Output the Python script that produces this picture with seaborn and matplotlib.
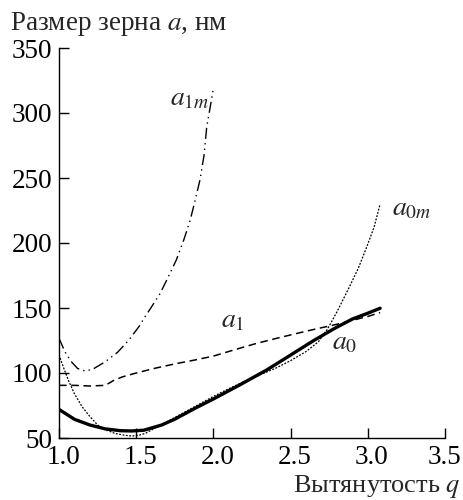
import matplotlib
matplotlib.use("Agg")
import matplotlib.pyplot as plt
import matplotlib.transforms as mtransforms
import seaborn as sns

# ---- data ----
q_a0 = [1.0, 1.1, 1.2, 1.3, 1.4, 1.47, 1.55, 1.665, 1.75, 1.88, 2.0, 2.17, 2.345,
        2.5, 2.65, 2.78, 2.9, 3.0, 3.08]
a0 = [72, 64.4, 60, 57, 55.6, 55.4, 56, 60, 64.5, 72.8, 80, 90.8, 102.3,
      113.8, 125, 134, 141.5, 146, 149.8]

q_a0m = [1.0, 1.03, 1.06, 1.1, 1.15, 1.2, 1.25, 1.3, 1.36, 1.42, 1.47, 1.52, 1.56,
         1.62, 1.7, 1.8, 1.9, 2.0, 2.1, 2.2, 2.3, 2.4, 2.5, 2.6, 2.68, 2.74, 2.80,
         2.88, 2.94, 2.99, 3.04, 3.08]
a0m = [114, 104, 94.6, 84, 74, 66.5, 60, 56.5, 53.6, 52.2, 51.5, 52.2, 53.6,
       57.5, 62.5, 69, 75.5, 82, 88, 93.5, 98.5, 103.5, 109.5, 116.5, 124, 134, 147,
       166, 181, 196, 212, 230]

q_a1 = [1.0, 1.1, 1.2, 1.3, 1.35, 1.41, 1.5, 1.62, 1.75, 1.88, 2.0, 2.14, 2.28,
        2.42, 2.56, 2.65, 2.73, 2.8, 2.9, 3.0, 3.08]
a1 = [90.5, 90.5, 90, 90.5, 94, 97, 100, 103.6, 107, 110, 113, 118, 122.8,
      127, 131, 133.5, 135.6, 137.5, 140.5, 143.5, 146.5]

q_a1m = [1.0, 1.04, 1.08, 1.12, 1.17, 1.22, 1.30, 1.38, 1.45, 1.52, 1.55, 1.60,
         1.654, 1.70, 1.76, 1.81, 1.85, 1.88, 1.913, 1.94, 1.957, 1.98, 2.0]
a1m = [126.7, 116, 108.7, 103.5, 101.5, 103, 108.7, 116, 125, 136, 142, 151,
       161, 172, 187, 203, 217.7, 232, 248.5, 268, 289.5, 305, 319]

x_ticks = [1.0, 1.5, 2.0, 2.5, 3.0, 3.5]
x_ticklabels = ["1.0", "1.5", "2.0", "2.5", "3.0", "3.5"]
y_ticks = [50, 100, 150, 200, 250, 300, 350]
y_ticklabels = ["50", "100", "150", "200", "250", "300", "350"]

title_text = "Размер зерна $a$, нм"
xlabel_text = "Вытянутость $q$"

# ---- style ----
sns.set_style("ticks")
plt.rcParams["font.family"] = ["Liberation Serif", "DejaVu Serif"]
plt.rcParams["mathtext.fontset"] = "stix"

fig = plt.figure(figsize=(4.64, 5.0), dpi=100)
ax = fig.add_axes([59 / 464, 62 / 500, (445 - 59) / 464, (438 - 48) / 500])

sns.lineplot(x=q_a1m, y=a1m, ax=ax, color="black", lw=1.0, estimator=None,
             sort=False, linestyle=(0, (8, 3, 1, 3, 1, 3)))
sns.lineplot(x=q_a1, y=a1, ax=ax, color="black", lw=1.1, estimator=None,
             sort=False, linestyle=(0, (5, 3)))
sns.lineplot(x=q_a0m, y=a0m, ax=ax, color="black", lw=0.9, estimator=None,
             sort=False, linestyle=(0, (1.5, 1.2)))
sns.lineplot(x=q_a0, y=a0, ax=ax, color="black", lw=2.4, estimator=None,
             sort=False, linestyle="-")

ax.set_xlim(1.0, 3.5)
ax.set_ylim(50, 350)
ax.set_xticks(x_ticks)
ax.set_xticklabels(x_ticklabels)
ax.set_yticks(y_ticks)
ax.set_yticklabels(y_ticklabels)
ax.tick_params(direction="in", length=7, width=1, labelsize=19.5, pad=5, colors="black")
offset = mtransforms.ScaledTranslation(4 / 100, 0, fig.dpi_scale_trans)
for lbl in ax.get_xticklabels()[:-1]:
    lbl.set_transform(lbl.get_transform() + offset)
for s in ["left", "bottom"]:
    ax.spines[s].set_linewidth(1.0)
    ax.spines[s].set_color("black")
sns.despine(ax=ax)
ax.set_xlabel("")
ax.set_ylabel("")

# curve labels
ax.text(1.72, 306, "$a_{1m}$", fontsize=20, ha="left", va="baseline")
ax.text(3.157, 221.5, "$a_{0m}$", fontsize=20, ha="left", va="baseline")
ax.text(2.05, 135.4, "$a_{1}$", fontsize=20, ha="left", va="baseline")
ax.text(2.768, 118.5, "$a_{0}$", fontsize=20, ha="left", va="baseline")

fig.text(10 / 464, 1 - 30 / 500, title_text, fontsize=19.5, ha="left", va="baseline")
fig.text(461 / 464, 1 - 492 / 500, xlabel_text, fontsize=19, ha="right", va="baseline")

fig.savefig("out.png", dpi=100)
